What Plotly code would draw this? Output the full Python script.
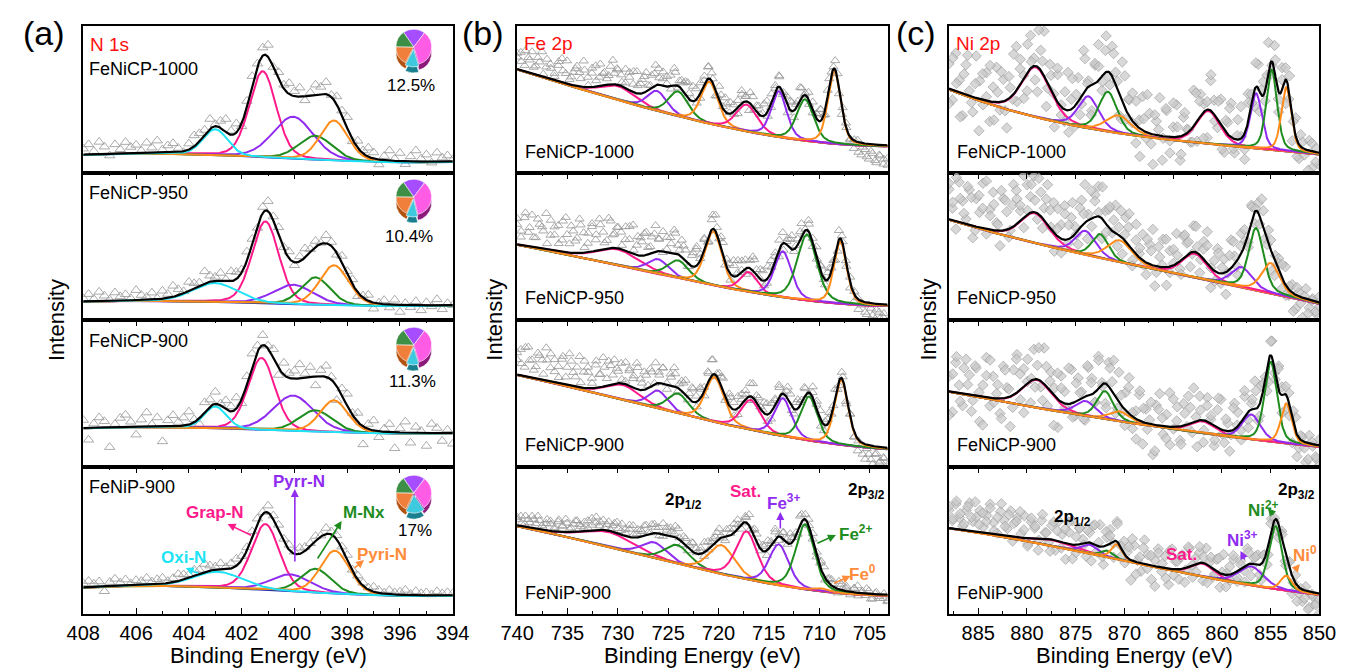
import numpy as np
import plotly.graph_objects as go

W, H = 1354, 669

# ---------------- (a) N 1s : components Oxi-N, Grap-N, Pyrr-N, M-Nx, Pyri-N ----------------
a_range = [408, 394]
a1_cen = [403.0, 401.2, 400.05, 399.2, 398.5]
a1_amp = [26, 86, 42, 24, 40]
a1_fw = [1.1, 1.2, 1.8, 1.5, 1.25]
a1_bg_e = [408, 403, 401.5, 400, 398.5, 397, 394]
a1_bg_v = [18, 17.5, 16.5, 14.5, 12, 11.2, 11]
a1_res = [6, 10, 3, 12, 7, -2, 9, 4, 11, 6, 8, 2, 10, 5, 12, 3, 7, 9, 4, -1, 6, 11, 8, 5, 10, 2, 7, 13, 4, 9,
          -3, 6, 10, 3, 8, 12, 0, 7, 4, 11, 5, 9, -4, 3, 10, 7, 12, 2, 8, 5, 11, -2, 7, 3, 9, 6, -5, 4, 10, 2,
          8, -3, 5, 11, 3, 7, -1, 9, 4, 6, 2]

a2_cen = [403.0, 401.1, 400.05, 399.2, 398.5]
a2_amp = [19, 82, 19.5, 27.5, 40]
a2_fw = [2.0, 1.2, 1.8, 1.3, 1.3]
a2_bg_e = [408, 403, 401.5, 400, 398.5, 397, 394]
a2_bg_v = [18.3, 18, 17, 15.5, 14.6, 14.3, 14.3]
a2_res = [3, 7, 2, 9, 5, 1, 8, 4, 6, 2, 10, 5, 3, 7, 1, 8, 4, 11, 6, 2, 9, 5, 3, 12, 6, 4, 8, 2, 10, 7,
          3, 9, 5, -2, 6, 10, 4, 8, 2, 7, -3, 5, 9, 3, 6, 1, 8, 4, -2, 7, 3, 5, -4, 2, 6, -6, 1, 4, -3, 5,
          -7, 2, -2, 4, -5, 3, -1, 6, -4, 2, 0]

a3_cen = [403.0, 401.25, 400.05, 399.2, 398.5]
a3_amp = [22, 72, 35.5, 21.5, 32]
a3_fw = [1.0, 1.2, 1.8, 1.5, 1.25]
a3_bg_e = [408, 403, 401.5, 400, 398.5, 397, 394]
a3_bg_v = [38.7, 38.5, 37.5, 36, 34.5, 33.8, 33.7]
a3_res = [8, -12, 4, 10, 6, -20, 3, 9, 12, 5, -8, 7, 14, 2, 9, -15, 6, 11, 4, 8, 13, 3, -6, 10, 7, 12, 2, 9, 5, 11,
          -4, 8, 13, 6, 10, 3, 9, -7, 12, 5, 8, 14, 4, 10, -9, 6, 11, 3, -14, 7, 12, 2, 9, -18, 5, 10, -6, 3, 8, -16,
          4, 11, -10, 6, 2, -13, 9, 5, -8, 3, -11]

a4_cen = [402.9, 401.1, 400.15, 399.2, 398.47]
a4_amp = [16, 66, 17, 24, 43]
a4_fw = [2.2, 1.25, 1.8, 1.35, 1.3]
a4_bg_e = [408, 403, 401.5, 400, 398.5, 397, 394]
a4_bg_v = [26.3, 26, 25, 22.5, 20, 18.8, 18.3]
a4_res = [4, 6, 3, 5, -5, 4, 7, 3, 6, 2, 5, 4, 7, 3, 5, 6, 2, 4, 7, 5, 3, 6, 4, 8, 5, 3, 6, 2, 5, 7,
          4, 3, 6, 5, 2, 7, 4, 6, 3, 5, 2, 6, 4, 3, 5, 1, 6, 3, 4, 2, 5, 1, 4, 3, 2, 5, 3, 1, 4, 2,
          3, 5, 1, 4, 2, 3, 1, 4, 2, 3, 2]

# pie insets (slices: Pyrr-N, Grap-N, Oxi-N, Pyri-N, M-Nx)
pie1_vals = [20, 35, 12.5, 17.5, 15]
pie2_vals = [20, 36, 10.4, 18.6, 15]
pie3_vals = [20, 35, 11.3, 18.7, 15]
pie4_vals = [20, 30, 17, 18, 15]
pie_labels = ["12.5%", "10.4%", "11.3%", "17%"]

# ---------------- (b) Fe 2p : Sat, Fe3+, Fe2+, Fe0 (2p1/2), Sat, Fe3+, Fe2+, Fe0 (2p3/2) ----------------
b_range = [740, 703.2]
b1_cen = [730.0, 726.1, 724.0, 720.9, 717.2, 714.0, 711.4, 708.5]
b1_amp = [14, 20, 25, 42, 27, 46, 41.5, 73]
b1_fw = [4.0, 2.3, 2.3, 2.0, 2.5, 1.8, 2.0, 1.5]
b1_bg_e = [740, 732.3, 725.8, 719.3, 712.9, 706.4, 703.2]
b1_bg_v = [103, 81.3, 60, 45, 35, 28, 26.3]
b1_res = [12, 18, 6, 15, 22, 9, 14, 3, 19, 11, 7, 16, 24, 10, 5, 13, 20, 8, 17, 2, 14, 21, 9, 12, 6, 18, 11, 15, 4, 19,
          13, 8, 22, 10, 16, 5, 12, 20, 7, 14, 3, 11, 17, -2, 9, 13, 6, 15, -4, 10, 4, 12, 8, -6, 14, 2, 9, 11, -3, 7,
          13, 5, -8, 10, 6, 1, 12, -5, 8, 3, 11, -2, 7, 9, -7, 4, 10, 2, -4, 8, 5, 12, -1, 6, 3, 9, -6, 4, 1, -3,
          -8, 2, -12, -6, -15, -9, -18, -11, -14, -20]
b1_res2 = [16, 9, 21, 13, 7, 18, 25, 11, 15, 4, 20, 12, 23, 8, 17, 14, 26, 10, 19, 6, 22, 13, 9, 24, 16, 11, 5, 18, 21, 8,
           14, 19, 3, 12, 16, 7, 10, -3, 13, 6, 9, 15, 2, 11, -5, 8, 12, 4, -2, 10, 14, 1, 7, -6, 9, 5, 11, -1, 8, 3,
           12, -4, 6, 10, 2, -7, 9, 4, 13, 0, 7, -3, 5, 11, -5, 8, 2, 6, -8, 4, -2, 1, -10, -4, -13, -7, -16, -10, -19, -13]

b2_cen = [730.0, 726.0, 724.0, 720.5, 717.0, 713.6, 711.2, 707.9]
b2_amp = [16, 15, 18, 54, 20, 46, 66, 62]
b2_fw = [5.0, 2.5, 2.5, 2.0, 2.0, 2.0, 2.3, 1.5]
b2_bg_e = [740, 732.3, 725.8, 719.3, 712.9, 706.4, 703.2]
b2_bg_v = [75, 60, 45, 32, 22, 15, 14]
b2_res = [20, 8, 28, 14, 32, 10, 24, 18, 6, 30, 16, 26, 12, 35, 9, 22, 15, 28, 5, 19, 25, 11, 31, 17, 8, 27, 14, 21, 4, 24,
          13, 29, 10, 18, 22, 7, 16, 26, 12, 20, 3, 15, 23, 9, 17, 11, -2, 14, 19, 6, 12, -4, 10, 16, 3, 13, 8, -6, 11, 15,
          2, 9, -3, 14, 6, 10, -5, 12, 4, 8, -7, 11, 3, 9, -2, 6, 13, 1, 8, -4, 10, 5, -1, 7, 3, -6, 9, 2, -3, 5,
          -8, 1, -4, -10, -2, -12, -6, -14, -9, -16]
b2_res2 = [26, 14, 33, 19, 10, 29, 22, 36, 15, 24, 8, 31, 18, 27, 12, 34, 20, 9, 28, 16, 25, 6, 30, 13, 21, 17, 11, 26, 4, 19,
           14, 23, 7, 18, 12, -1, 15, 9, 20, 5, 13, -3, 11, 17, 2, 10, -5, 14, 7, 12, -2, 9, 16, 3, 11, -6, 8, 13, 1, 10,
           -4, 12, 5, 9, -7, 7, 14, 2, 8, -3, 11, 4, -1, 6, -5, 9, 2, -8, 5, 0, -6, 3, -10, -2, -12, -5, -15, -8, -13, -17]

b3_cen = [729.5, 726.0, 724.0, 720.4, 716.8, 713.6, 711.0, 707.8]
b3_amp = [15, 18, 20, 45, 30, 38, 44, 65]
b3_fw = [4.0, 2.3, 2.5, 2.2, 2.3, 2.0, 2.0, 1.6]
b3_bg_e = [740, 732.3, 725.8, 719.3, 712.9, 706.4, 703.2]
b3_bg_v = [92, 74, 58, 42, 30, 20, 18]
b3_res = [15, 26, 9, 30, 18, 12, 24, 6, 21, 28, 11, 17, 25, 8, 32, 14, 20, 5, 27, 16, 10, 23, 13, 29, 7, 19, 24, 12, 4, 22,
          15, 9, 26, 11, 18, 3, 14, 21, 8, 16, 2, 12, 19, -3, 10, 15, 6, 13, -5, 9, 4, 11, 16, -2, 8, 13, 3, 10, -6, 12,
          5, 9, -4, 14, 7, 2, 11, -7, 8, 4, 12, -3, 6, 10, -5, 9, 3, 7, -2, 11, 4, 8, -6, 5, 1, 9, -4, 3, -8, 2,
          -6, -12, -3, -15, -9, -18, -7, -14, -11, -17]
b3_res2 = [22, 12, 29, 17, 8, 26, 20, 33, 14, 23, 6, 28, 18, 25, 10, 31, 16, 21, 5, 27, 13, 19, 24, 9, 15, 20, 3, 17, 12, 22,
           7, 14, 18, 1, 11, 16, -4, 9, 13, 5, 10, -2, 14, 6, 11, -5, 8, 15, 3, 9, -3, 12, 7, -6, 10, 4, 13, -1, 8, 2,
           11, -7, 6, 9, 0, 12, -4, 7, 3, 10, -2, 5, 8, -6, 4, 9, 1, -3, 6, -8, 2, -5, -1, -11, -4, -14, -8, -16, -10, -19]

b4_cen = [730.9, 726.4, 724.1, 719.7, 717.2, 714.0, 711.4, 709.8]
b4_amp = [15, 16, 19, 29, 48, 41, 65, 3]
b4_fw = [6.0, 3.0, 3.0, 3.0, 2.5, 2.3, 2.2, 2.0]
b4_bg_e = [740, 732.3, 725.8, 719.3, 712.9, 706.4, 703.2]
b4_bg_v = [87.3, 72.3, 52.3, 39, 27.3, 20, 18]
b4_res = [6, 10, 3, 8, 12, 5, 9, 2, 11, 7, 4, 10, 6, 13, 3, 8, 11, 5, 9, 2, 12, 7, 4, 10, 6, 1, 9, 5, 11, 3,
          8, 12, 4, 7, 10, 2, 9, 6, -2, 11, 5, 8, 3, 10, -3, 7, 4, 9, 1, 6, -4, 8, 3, 5, 10, -1, 7, 2, 9, 4,
          -5, 6, 11, 3, 8, -2, 5, 9, 1, 7, -4, 6, 3, 10, 2, -3, 8, 5, 1, 7, -2, 4, 9, 3, 6, -1, 8, 2, 5, -3,
          4, 7, 1, -2, 3, -5, 2, -4, 1, -6]
b4_res2 = [8, 3, 11, 5, 9, 13, 4, 7, 10, 2, 12, 6, 9, 4, 11, 7, 3, 10, 5, 13, 8, 2, 9, 6, 11, 4, 7, 12, 3, 8,
           5, 10, 1, 9, 6, -2, 8, 4, 11, 2, 7, -3, 9, 5, 3, 10, -1, 6, 8, 2, -4, 7, 4, 9, 1, 5, -2, 8, 3, 6,
           -5, 4, 10, 2, 7, -1, 5, 3, 9, -3, 6, 1, 4, 8, -2, 5, 2, -4, 6, 3, -1, 4, -3, 2, 5, -5, 1, -2, -4, -7]

# ---------------- (c) Ni 2p : Sat, Ni3+, Ni2+, Ni0 (2p1/2), Sat, Ni3+, Ni2+, Ni0 (2p3/2) ----------------
c_range = [888, 850]
c1_cen = [879.1, 873.7, 871.7, 870.6, 861.4, 856.5, 854.9, 853.4]
c1_amp = [50, 32, 40, 18, 33, 55, 80, 64]
c1_fw = [3.5, 2.5, 2.2, 3.0, 2.8, 1.4, 1.3, 1.2]
c1_bg_e = [888, 880.3, 873.6, 866.9, 860.3, 853.6, 850]
c1_bg_v = [83.7, 58, 45, 35, 28, 21.3, 19]
c1_res = [25, -10, 38, 12, -22, 30, 5, -15, 42, 18, -5, 28, -20, 15, 35, -8, 22, -28, 10, 40, -12, 25, 3, -18, 33, 8, -25, 20,
          45, -5, 15, -30, 28, 2, -12, 38, 10, -20, 24, -8, 32, 6, -26, 18, 36, -14, 22, -4, 30, 12, -22, 40, -10, 16, 28,
          -18, 8, 34, -6, 20, -30, 14, 38, -2, 26, -16, 10, 32, -24, 18, 4, -12, 36, -20, 22, 8, -28, 30, 14, -8, 26, -22,
          12, 34, -14, 20, 2, -26, 28, 10, -18, 24, 6, -10, 30, -4, 16, -20, 22, 12, -8, -24, 18, -14, 6, -30, 10, -16, 4, -12]
c1_res2 = [-15, 32, 8, -24, 20, 40, -6, 14, -32, 26, 4, 36, -18, 10, 30, -10, 22, -4, 44, 16, -20, 28, 6, -14, 38, 12, -26, 24, 2, 34,
           -8, 18, -22, 30, 10, -16, 42, 4, -30, 20, 14, -6, 36, -12, 26, 8, -20, 32, 16, -2, 24, -28, 12, 38, -10, 20, 6, -24, 28, -4,
           34, 10, -18, 22, 2, -14, 30, 16, -26, 8, 36, -6, 20, -22, 12, 28, -10, 4, 32, -16, 18, -2, 24, -20, 14, 6, -12, 26, -8, 10,
           -24, 20, 2, -16, 12, -6, -20, 8, -10, -26]

c2_cen = [879.2, 874.0, 872.5, 870.5, 862.8, 858.0, 856.5, 855.0]
c2_amp = [30, 24, 24, 22, 24, 20, 62, 30]
c2_fw = [3.5, 2.5, 2.0, 3.0, 3.0, 2.5, 1.8, 2.2]
c2_bg_e = [888, 880.3, 873.6, 866.9, 860.3, 853.6, 850]
c2_bg_v = [100, 80, 64, 50, 38, 24, 16]
c2_res = [30, 12, -8, 40, 22, 5, 35, -12, 28, 15, 45, -5, 20, 38, 8, -15, 32, 18, -2, 42, 25, 10, -10, 30, 16, 36, -6, 24,
          12, 40, 2, -18, 28, 14, 34, -4, 20, 8, -14, 26, 38, 6, -8, 22, 30, -20, 12, 18, -2, 28, 8, -16, 24, 32, -10, 14,
          4, 26, -12, 20, 36, -6, 10, 28, -18, 16, 2, 30, -8, 22, 12, -14, 26, 6, -4, 18, 32, -20, 10, 24, -10, 14, -2, 28,
          8, -16, 20, 4, -8, 16, -12, 10, 24, -4, 14, -18, 6, 12, -10, 18, -6, 8, -14, 4, -20, 10, -8, 2, -12, 6]
c2_res2 = [36, 18, 44, 24, 10, 38, 28, -4, 32, 20, 48, 14, 26, 6, 40, 30, -8, 22, 34, 16, 42, 4, 28, 12, 36, -10, 24, 18, 30, 8,
           -14, 26, 14, 34, -2, 20, 10, -18, 28, 16, 4, 32, -8, 22, 12, -12, 26, 6, 18, -16, 30, 10, -4, 24, 14, -20, 20, 2, 28, -6,
           16, 8, -14, 22, 12, -2, 26, -18, 10, 18, 0, -10, 20, 6, -22, 14, 24, -6, 8, 16, -14, 12, 2, -8, 18, -4, 10, -16, 6, 14,
           -10, 4, -18, 8, -6, 2, -14, 0, -10, -4]

c3_cen = [879.0, 874.0, 872.0, 870.5, 862.0, 857.0, 855.0, 853.4]
c3_amp = [28, 15, 28, 10, 12, 25, 80, 40]
c3_fw = [3.5, 2.5, 2.0, 2.5, 3.0, 2.2, 1.5, 1.3]
c3_bg_e = [888, 880.3, 873.6, 866.9, 860.3, 853.6, 850]
c3_bg_v = [75, 62, 50, 40, 32, 24, 20]
c3_res = [15, -20, 30, 8, -12, 35, 20, -5, 28, -25, 12, 40, -8, 22, 5, -15, 32, 10, -30, 25, 38, -10, 18, 2, -22, 30, 14, -6,
          36, -18, 20, 8, -28, 26, 12, -4, 34, -14, 22, 6, -24, 28, 16, -10, 32, 2, -20, 24, 10, -16, 30, -6, 18, 36, -12,
          8, 26, -22, 14, 4, -30, 20, 32, -8, 12, -18, 28, 6, -14, 22, -2, 16, 34, -26, 10, -10, 24, 4, -20, 18, 30, -12, 8,
          -4, 26, 14, -18, 20, -8, 6, 28, -14, 12, 2, -22, 16, -6, 24, 8, -16, 10, -24, 14, -10, 4, -20, 8, -2, -14, 6]
c3_res2 = [-24, 18, 36, -8, 26, 10, -16, 30, 4, -28, 22, 38, -4, 14, -20, 28, 8, -12, 34, 16, -26, 24, 2, -8, 32, -18, 20, 10, -30, 26,
           14, -4, 36, -14, 18, 6, -22, 30, 12, -10, 28, -2, -24, 20, 34, -8, 10, -16, 26, 4, -20, 30, 14, -6, 22, -26, 16, 8, -12, 34,
           -2, 20, -18, 12, 28, -10, 4, 24, -22, 16, 8, -14, 30, -4, 12, -20, 22, 2, -8, 26, -16, 10, 18, -12, 6, -24, 14, -4, 20, -18,
           8, -10, 12, -22, 4, -6, -16, 2, -12, -20]

c4_cen = [877.5, 873.6, 871.8, 870.8, 862.0, 857.0, 854.5, 853.4]
c4_amp = [6, 9, 6.5, 15, 13, 19, 63, 15]
c4_fw = [5.0, 2.0, 1.5, 1.3, 2.8, 3.0, 1.6, 1.4]
c4_bg_e = [888, 880.3, 873.6, 866.9, 860.3, 853.6, 850]
c4_bg_v = [85.7, 73.3, 60.7, 46.7, 34, 24, 19]
c4_res = [18, 8, 25, 12, 4, 20, 28, 10, 15, 22, 6, 18, 30, 12, 2, 24, 16, 8, 26, 14, 20, 4, 22, -6, 16, 10, -12, 18, 6, -4,
          14, -10, 20, 8, -16, 12, 24, -8, 16, 4, -14, 10, 18, -6, 22, -18, 8, 14, -2, 20, -10, 12, 6, -20, 16, 2, -8, 24,
          10, -14, 6, 18, -4, 12, -16, 20, 8, -10, 14, -2, 18, -12, 6, 10, -18, 16, 4, -8, 12, -14, 20, 2, -6, 14, -10, 8,
          -4, 16, -12, 6, 10, -16, 4, -8, 12, -2, -14, 6, -10, 2, -18, 8, -6, -12, 4, -16, -4, -10, -20]
c4_res2 = [22, 10, 28, 16, 6, 24, 14, 30, 8, 20, 12, 26, 4, 18, 32, 10, 22, -4, 16, 26, 8, -8, 20, 12, -2, 24, 6, -12, 18, 10,
           -6, 14, 22, -14, 8, 16, -2, 12, -18, 20, 4, -10, 14, 8, -16, 18, 2, -8, 12, 22, -12, 6, 16, -4, 10, -20, 14, 4, -10, 18,
           -6, 8, 12, -14, 20, 0, -8, 16, 6, -18, 10, -4, 14, 2, -12, 8, 18, -6, 4, -16, 12, -2, 8, -10, 6, -14, 10, 2, -8, 4,
           -12, 6, -4, -16, 0, -8, -18, -2, -12, -6]

# ---------------- styles / geometry ----------------
FONT = "Liberation Sans, Arial, sans-serif"
PINK, PURPLE, GREEN, ORANGE, CYAN = "#ff1a8c", "#8f2cf0", "#1e8c1e", "#ff8c1a", "#1ee3f5"
a_colors = [CYAN, PINK, PURPLE, GREEN, ORANGE]
a_order = [1, 2, 3, 4, 0]
bc_colors = [PINK, PURPLE, GREEN, ORANGE, PINK, PURPLE, GREEN, ORANGE]

col_px = {"a": (68, 447), "b": (513, 893), "c": (956, 1336)}
row_px = [(26, 173), (173, 320), (320, 467), (467, 614)]
PANEL_H = 147


def px(x):
    return x / W


def py(y):
    return 1 - y / H


def pvoigt(x, c, h, w, eta):
    d = (x - c) / w
    return h * ((1 - eta) * np.exp(-4 * np.log(2) * d * d) + eta / (1 + 4 * d * d))


def bg_fun(be, bv):
    be = np.asarray(be, float)
    m = be.mean()
    co = np.polyfit(be - m, np.asarray(bv, float), 3)
    return lambda x: np.polyval(co, np.asarray(x) - m)


fig = go.Figure()
layout_axes = {}

panels = [
    ("a", 0, a_range, a1_cen, a1_amp, a1_fw, a1_bg_e, a1_bg_v, [a1_res]),
    ("a", 1, a_range, a2_cen, a2_amp, a2_fw, a2_bg_e, a2_bg_v, [a2_res]),
    ("a", 2, a_range, a3_cen, a3_amp, a3_fw, a3_bg_e, a3_bg_v, [a3_res]),
    ("a", 3, a_range, a4_cen, a4_amp, a4_fw, a4_bg_e, a4_bg_v, [a4_res]),
    ("b", 0, b_range, b1_cen, b1_amp, b1_fw, b1_bg_e, b1_bg_v, [b1_res, b1_res2]),
    ("b", 1, b_range, b2_cen, b2_amp, b2_fw, b2_bg_e, b2_bg_v, [b2_res, b2_res2]),
    ("b", 2, b_range, b3_cen, b3_amp, b3_fw, b3_bg_e, b3_bg_v, [b3_res, b3_res2]),
    ("b", 3, b_range, b4_cen, b4_amp, b4_fw, b4_bg_e, b4_bg_v, [b4_res, b4_res2]),
    ("c", 0, c_range, c1_cen, c1_amp, c1_fw, c1_bg_e, c1_bg_v, [c1_res, c1_res2]),
    ("c", 1, c_range, c2_cen, c2_amp, c2_fw, c2_bg_e, c2_bg_v, [c2_res, c2_res2]),
    ("c", 2, c_range, c3_cen, c3_amp, c3_fw, c3_bg_e, c3_bg_v, [c3_res, c3_res2]),
    ("c", 3, c_range, c4_cen, c4_amp, c4_fw, c4_bg_e, c4_bg_v, [c4_res, c4_res2]),
]

for k, (col, row, xr, cen, amp, fw, bge, bgv, res_sets) in enumerate(panels):
    i = k + 1
    xs = "x" if i == 1 else f"x{i}"
    ys = "y" if i == 1 else f"y{i}"
    eta = 0.2 if col == "a" else 0.35
    bgf = bg_fun(bge, bgv)

    def model(x):
        return bgf(x) + np.sum([pvoigt(x, c, h, w, eta) for c, h, w in zip(cen, amp, fw)], axis=0)

    xf = np.linspace(xr[0], xr[1], 700)
    bgl = bgf(xf)
    peaks = [pvoigt(xf, c, h, w, eta) for c, h, w in zip(cen, amp, fw)]
    env = bgl + np.sum(peaks, axis=0)

    xd_all, yd_all = [], []
    for res in res_sets:
        xd = np.linspace(xr[0], xr[1], len(res))
        xd_all.append(xd)
        yd_all.append(model(xd) + np.asarray(res))
    xd = np.concatenate(xd_all)
    yd = np.concatenate(yd_all)

    if col == "c":
        mk = dict(symbol="diamond", size=8, color="rgba(200,200,200,0.7)",
                  line=dict(color="rgba(150,150,150,0.75)", width=0.8))
    else:
        mk = dict(symbol="triangle-up-open", size=8 if col == "b" else 9,
                  color="rgba(150,150,150,0.8)", line=dict(width=1))
    fig.add_trace(go.Scatter(x=xd, y=yd, mode="markers", marker=mk, xaxis=xs, yaxis=ys,
                             showlegend=False, hoverinfo="skip"))
    if col == "a":
        fig.add_trace(go.Scatter(x=xf, y=bgl, mode="lines", line=dict(color="#2323b8", width=1.6),
                                 xaxis=xs, yaxis=ys, showlegend=False, hoverinfo="skip"))
        order, colors = a_order, a_colors
    else:
        order, colors = list(range(len(cen))), bc_colors
    for j in order:
        fig.add_trace(go.Scatter(x=xf, y=bgl + peaks[j], mode="lines",
                                 line=dict(color=colors[j], width=2), xaxis=xs, yaxis=ys,
                                 showlegend=False, hoverinfo="skip"))
    fig.add_trace(go.Scatter(x=xf, y=env, mode="lines", line=dict(color="black", width=2.2),
                             xaxis=xs, yaxis=ys, showlegend=False, hoverinfo="skip"))

    x0, x1 = col_px[col]
    r0, r1 = row_px[row]
    dt, mdt = (2, 1) if col == "a" else (5, 2.5)
    xa = dict(domain=[px(x0), px(x1)], range=xr, anchor=ys, showgrid=False, zeroline=False,
              showline=True, linecolor="black", linewidth=1.6, dtick=dt, tick0=0,
              tickcolor="black", tickwidth=1.4, ticklen=6)
    if row == 3:
        xa.update(side="bottom", ticks="inside", mirror="allticks", showticklabels=True,
                  tickfont=dict(family=FONT, size=20, color="black"),
                  minor=dict(ticks="inside", ticklen=3, dtick=mdt, tickcolor="black", tickwidth=1.2))
    elif row == 0:
        xa.update(ticks="", mirror=True, showticklabels=False)
    else:
        xa.update(side="top", ticks="inside", mirror=True, showticklabels=False,
                  minor=dict(ticks="inside", ticklen=3, dtick=mdt, tickcolor="black", tickwidth=1.2))
    ya = dict(domain=[py(r1), py(r0)], range=[0, PANEL_H], anchor=xs, showgrid=False, zeroline=False,
              showline=True, mirror=True, linecolor="black", linewidth=1.6, showticklabels=False, ticks="")
    layout_axes["xaxis" if i == 1 else f"xaxis{i}"] = xa
    layout_axes["yaxis" if i == 1 else f"yaxis{i}"] = ya

# ---------------- pie insets (pseudo-3D: darker shadow pie under) ----------------
pie_cols = ["#a64dff", "#ff5ce6", "#3fc9df", "#f07f3c", "#3d8f45"]
pie_dark = ["#5c1a8c", "#8c1a7a", "#1a7f8f", "#b35210", "#205a24"]
pie_centers = [(407, 47), (407, 197), (407, 345), (407, 493)]
pie_label_pos = [(404, 86), (402, 236), (406, 381), (408, 530)]
for (cx, cy), vals, lab, (lx, ly) in zip(pie_centers, [pie1_vals, pie2_vals, pie3_vals, pie4_vals],
                                         pie_labels, pie_label_pos):
    r = 24
    for dy, cols in ((6, pie_dark), (0, pie_cols)):
        fig.add_trace(go.Pie(values=vals, sort=False, direction="clockwise", rotation=-35,
                             marker=dict(colors=cols, line=dict(color="white", width=0.6)),
                             pull=[0, 0, 0.12, 0, 0], textinfo="none", hoverinfo="skip",
                             showlegend=False,
                             domain=dict(x=[px(cx - r), px(cx + r)], y=[py(cy + dy + r - 4), py(cy + dy - r + 4)])))
    fig.add_annotation(x=px(lx), y=py(ly), xref="paper", yref="paper", text=lab, showarrow=False,
                       xanchor="center", yanchor="middle",
                       font=dict(family=FONT, size=17, color="black"))

# ---------------- text ----------------
def txt(x, y, s, size, color="black", xanchor="center", angle=0):
    fig.add_annotation(x=px(x), y=py(y), xref="paper", yref="paper", text=s, showarrow=False,
                       xanchor=xanchor, yanchor="middle", textangle=angle,
                       font=dict(family=FONT, size=size, color=color))


def arrow(x0, y0, x1, y1, color):
    fig.add_annotation(x=px(x1), y=py(y1), xref="paper", yref="paper", ax=x0 - x1, ay=y0 - y1,
                       axref="pixel", ayref="pixel", text="", showarrow=True, arrowhead=2,
                       arrowsize=1, arrowwidth=1.6, arrowcolor=color)


txt(28, 33, "(a)", 34)
txt(478, 33, "(b)", 34)
txt(922, 33, "(c)", 34)
txt(73, 44, "N 1s", 19, "#ff1010", "left")
txt(518, 43, "Fe 2p", 19, "#ff1010", "left")
txt(961, 43, "Ni 2p", 19, "#ff1010", "left")

txt(72, 69, "FeNiCP-1000", 18, xanchor="left")
txt(72, 193, "FeNiCP-950", 18, xanchor="left")
txt(72, 341, "FeNiCP-900", 18, xanchor="left")
txt(72, 487, "FeNiP-900", 18, xanchor="left")
for bx in (519, 962):
    txt(bx, 152, "FeNiCP-1000", 18, xanchor="left")
    txt(bx, 298, "FeNiCP-950", 18, xanchor="left")
    txt(bx, 445, "FeNiCP-900", 18, xanchor="left")
    txt(bx, 593, "FeNiP-900", 18, xanchor="left")

for cx in (40, 489, 934):
    txt(cx, 320, "Intensity", 22, angle=-90)
for col in ("a", "b", "c"):
    x0, x1 = col_px[col]
    txt((x0 + x1) / 2, 655, "Binding Energy (eV)", 22)

# (a) labels
txt(203, 512, "<b>Grap-N</b>", 17, PINK)
arrow(241, 536, 216, 524, PINK)
txt(289, 481, "<b>Pyrr-N</b>", 17, PURPLE)
arrow(285, 563, 285, 489, PURPLE)
txt(356, 512, "<b>M-Nx</b>", 17, GREEN)
arrow(308, 560, 333, 521, GREEN)
txt(374, 554, "<b>Pyri-N</b>", 17, "#ff8c3a")
arrow(345, 569, 356, 560, "#ff8c3a")
txt(171, 557, "<b>Oxi-N</b>", 17, CYAN)
arrow(187, 574, 173, 568, CYAN)

# (b) labels
txt(684, 501, "<b>2p<sub>1/2</sub></b>", 17)
txt(747, 491, "<b>Sat.</b>", 17, PINK)
txt(786, 502, "<b>Fe<sup>3+</sup></b>", 17, PURPLE)
arrow(783, 530, 783, 512, PURPLE)
txt(871, 491, "<b>2p<sub>3/2</sub></b>", 17)
txt(860, 533, "<b>Fe<sup>2+</sup></b>", 17, GREEN)
arrow(820, 544, 840, 535, GREEN)
txt(867, 573, "<b>Fe<sup>0</sup></b>", 17, "#ff8c3a")
arrow(837, 584, 855, 576, "#ff8c3a")

# (c) labels
txt(1083, 518, "<b>2p<sub>1/2</sub></b>", 17)
txt(1194, 554, "<b>Sat.</b>", 17, PINK)
txt(1257, 539, "<b>Ni<sup>3+</sup></b>", 17, PURPLE)
arrow(1260, 561, 1255, 551, PURPLE)
txt(1279, 509, "<b>Ni<sup>2+</sup></b>", 17, GREEN)
arrow(1290, 516, 1283, 508, GREEN)
txt(1312, 491, "<b>2p<sub>3/2</sub></b>", 17)
txt(1321, 554, "<b>Ni<sup>0</sup></b>", 17, "#ff8c3a")
arrow(1310, 571, 1316, 564, "#ff8c3a")

fig.update_layout(width=W, height=H, margin=dict(l=0, r=0, t=0, b=0),
                  paper_bgcolor="white", plot_bgcolor="white",
                  font=dict(family=FONT, color="black"), **layout_axes)
fig.write_html("out.html")
